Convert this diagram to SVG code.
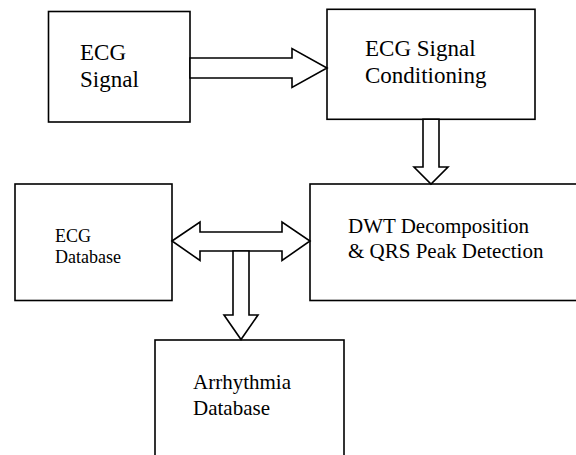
<svg xmlns="http://www.w3.org/2000/svg" width="576" height="455" viewBox="0 0 576 455">
<style>
.box{fill:#fff;stroke:#000;stroke-width:1.6}
.arr{fill:#fff;stroke:#000;stroke-width:1.6;stroke-linejoin:miter}
.t23{font-size:23px}
.t21{font-size:21px}
.t18{font-size:18px}
</style>
<rect width="576" height="455" fill="#fff"/>
<g font-family="'Liberation Serif', 'Times New Roman', serif" fill="#000">
<g id="node-ecg-signal">
<rect class="box" x="48.5" y="11.5" width="141.5" height="110.5"/>
<text class="t23" x="80" y="60">ECG</text>
<text class="t23" x="80" y="87">Signal</text>
</g>
<g id="node-conditioning">
<rect class="box" x="327" y="9.3" width="208" height="110"/>
<text class="t23" x="365" y="56">ECG Signal</text>
<text class="t23" x="365" y="83">Conditioning</text>
</g>
<g id="node-dwt">
<rect class="box" x="310" y="184" width="270" height="116.5"/>
<text class="t21" x="348" y="233">DWT Decomposition</text>
<text class="t21" x="348" y="258">&amp; QRS Peak Detection</text>
</g>
<g id="node-ecg-database">
<rect class="box" x="15" y="184" width="157" height="116.5"/>
<text class="t18" x="55" y="242">ECG</text>
<text class="t18" x="55" y="263">Database</text>
</g>
<g id="node-arrhythmia">
<rect class="box" x="155" y="340" width="189" height="130"/>
<text class="t21" x="193" y="389">Arrhythmia</text>
<text class="t21" x="193" y="415">Database</text>
</g>
</g>
<g id="connectors">
<polygon class="arr" points="190,58 292,58 292,48.5 327,68 292,87.5 292,78 190,78"/>
<polygon class="arr" points="423,119.3 439,119.3 439,167 448,167 431,184 414,167 423,167"/>
<polygon class="arr" points="172,241 200,222 200,232 282,232 282,222 310,241 282,260.5 282,251 200,251 200,260.5"/>
<polygon class="arr" points="233,251 249,251 249,315 258,315 241,339.5 224,315 233,315"/>
</g>
</svg>
